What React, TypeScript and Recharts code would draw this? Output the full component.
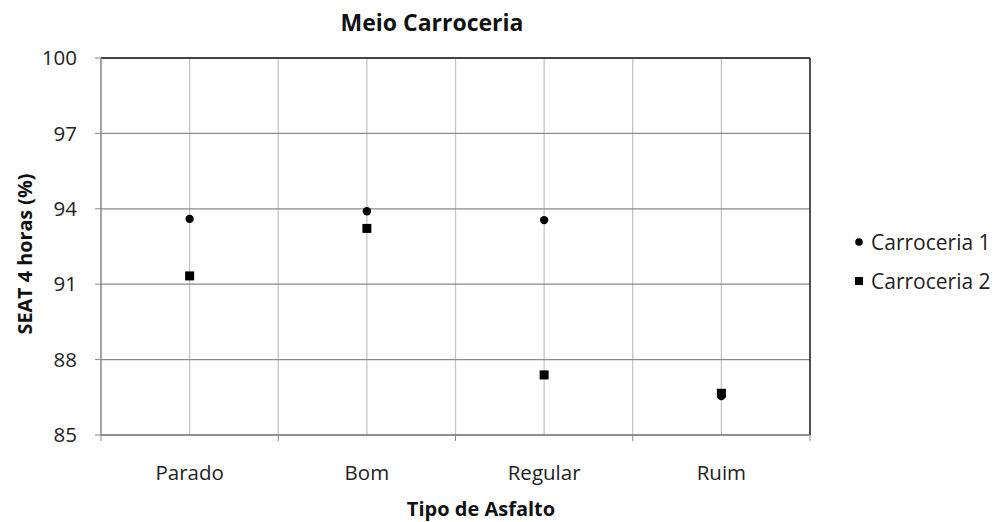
import React from 'react';
import {
  ScatterChart,
  Scatter,
  XAxis,
  YAxis,
  CartesianGrid,
  ReferenceLine,
  Legend,
} from 'recharts';

const categories = ['Parado', 'Bom', 'Regular', 'Ruim'];
const carroceria1 = [93.6, 93.9, 93.55, 86.55];
const carroceria2 = [91.33, 93.22, 87.39, 86.66];
const yTicks = [85, 88, 91, 94, 97, 100];
const xTicks = [0, 0.5, 1, 1.5, 2, 2.5, 3, 3.5, 4];

const series1 = categories.map((c, i) => ({ x: i + 0.5, y: carroceria1[i], cat: c }));
const series2 = categories.map((c, i) => ({ x: i + 0.5, y: carroceria2[i], cat: c }));

const FONT = '"Open Sans", Lato, sans-serif';

const DotShape = (p: any) => <circle cx={p.cx} cy={p.cy} r={4.2} fill="#000" />;
const SquareShape = (p: any) => (
  <rect x={p.cx - 4.5} y={p.cy - 4.5} width={9} height={9} fill="#000" />
);

const XTick = (props: any) => {
  const { x, y, payload } = props;
  const v = payload.value as number;
  if (Number.isInteger(v)) {
    return <line x1={x} x2={x} y1={y - 6} y2={y} stroke="#888" />;
  }
  const label = categories[Math.floor(v)];
  return (
    <text x={x} y={y + 39} textAnchor="middle" fontSize={20.5} fill="#222" fontFamily={FONT}>
      {label}
    </text>
  );
};

const LegendContent = () => (
  <div style={{ fontFamily: FONT, fontSize: 21, color: '#222', lineHeight: '38px' }}>
    <div style={{ display: 'flex', alignItems: 'center', height: 39 }}>
      <svg width={14} height={14} style={{ marginRight: 5 }}>
        <circle cx={7} cy={7} r={3.8} fill="#000" />
      </svg>
      <span>Carroceria 1</span>
    </div>
    <div style={{ display: 'flex', alignItems: 'center', height: 39 }}>
      <svg width={14} height={14} style={{ marginRight: 5 }}>
        <rect x={3} y={3} width={8} height={8} fill="#000" />
      </svg>
      <span>Carroceria 2</span>
    </div>
  </div>
);

export default function App() {
  return (
    <div style={{ position: 'absolute', left: 0, top: 0, width: 994, height: 522, background: '#fff', fontFamily: FONT }}>
      <ScatterChart width={994} height={522} margin={{ top: 58, right: 184, bottom: 0, left: 0 }}>
        <CartesianGrid horizontal={false} stroke="#c4c4c4" strokeWidth={1.3} />
        <CartesianGrid vertical={false} stroke="#8a8a8a" strokeWidth={1.3} />
        <XAxis
          type="number"
          dataKey="x"
          domain={[0, 4]}
          ticks={xTicks}
          interval={0}
          height={87}
          tickSize={6}
          tickMargin={0}
          tickLine={false}
          axisLine={{ stroke: '#888', strokeWidth: 1.3 }}
          tick={<XTick />}
        />
        <YAxis
          type="number"
          dataKey="y"
          domain={[85, 100]}
          ticks={yTicks}
          interval={0}
          width={101}
          tickSize={6}
          tickMargin={18}
          tickLine={{ stroke: '#888' }}
          axisLine={{ stroke: '#888', strokeWidth: 1.3 }}
          tick={{ fontSize: 20.5, fill: '#222', fontFamily: FONT }}
        />
        <ReferenceLine y={100} stroke="#222" strokeWidth={1.5} />
        <ReferenceLine x={4} stroke="#222" strokeWidth={1.5} />
        <Legend
          layout="vertical"
          align="center"
          verticalAlign="middle"
          content={<LegendContent />}
          wrapperStyle={{ left: 852, top: 222, width: 142 }}
        />
        <Scatter name="Carroceria 1" data={series1} shape={DotShape} isAnimationActive={false} />
        <Scatter name="Carroceria 2" data={series2} shape={SquareShape} isAnimationActive={false} />
        <text x={432} y={31} textAnchor="middle" fontSize={23} fontWeight="bold" fill="#111" fontFamily={FONT}>
          Meio Carroceria
        </text>
        <text x={481} y={516} textAnchor="middle" fontSize={20} fontWeight="bold" fill="#111" fontFamily={FONT}>
          Tipo de Asfalto
        </text>
        <text
          x={24}
          y={254}
          textAnchor="middle"
          dominantBaseline="central"
          fontSize={19.8}
          fontWeight="bold"
          fill="#111"
          fontFamily={FONT}
          transform="rotate(-90, 24, 254)"
        >
          SEAT 4 horas (%)
        </text>
      </ScatterChart>
    </div>
  );
}
